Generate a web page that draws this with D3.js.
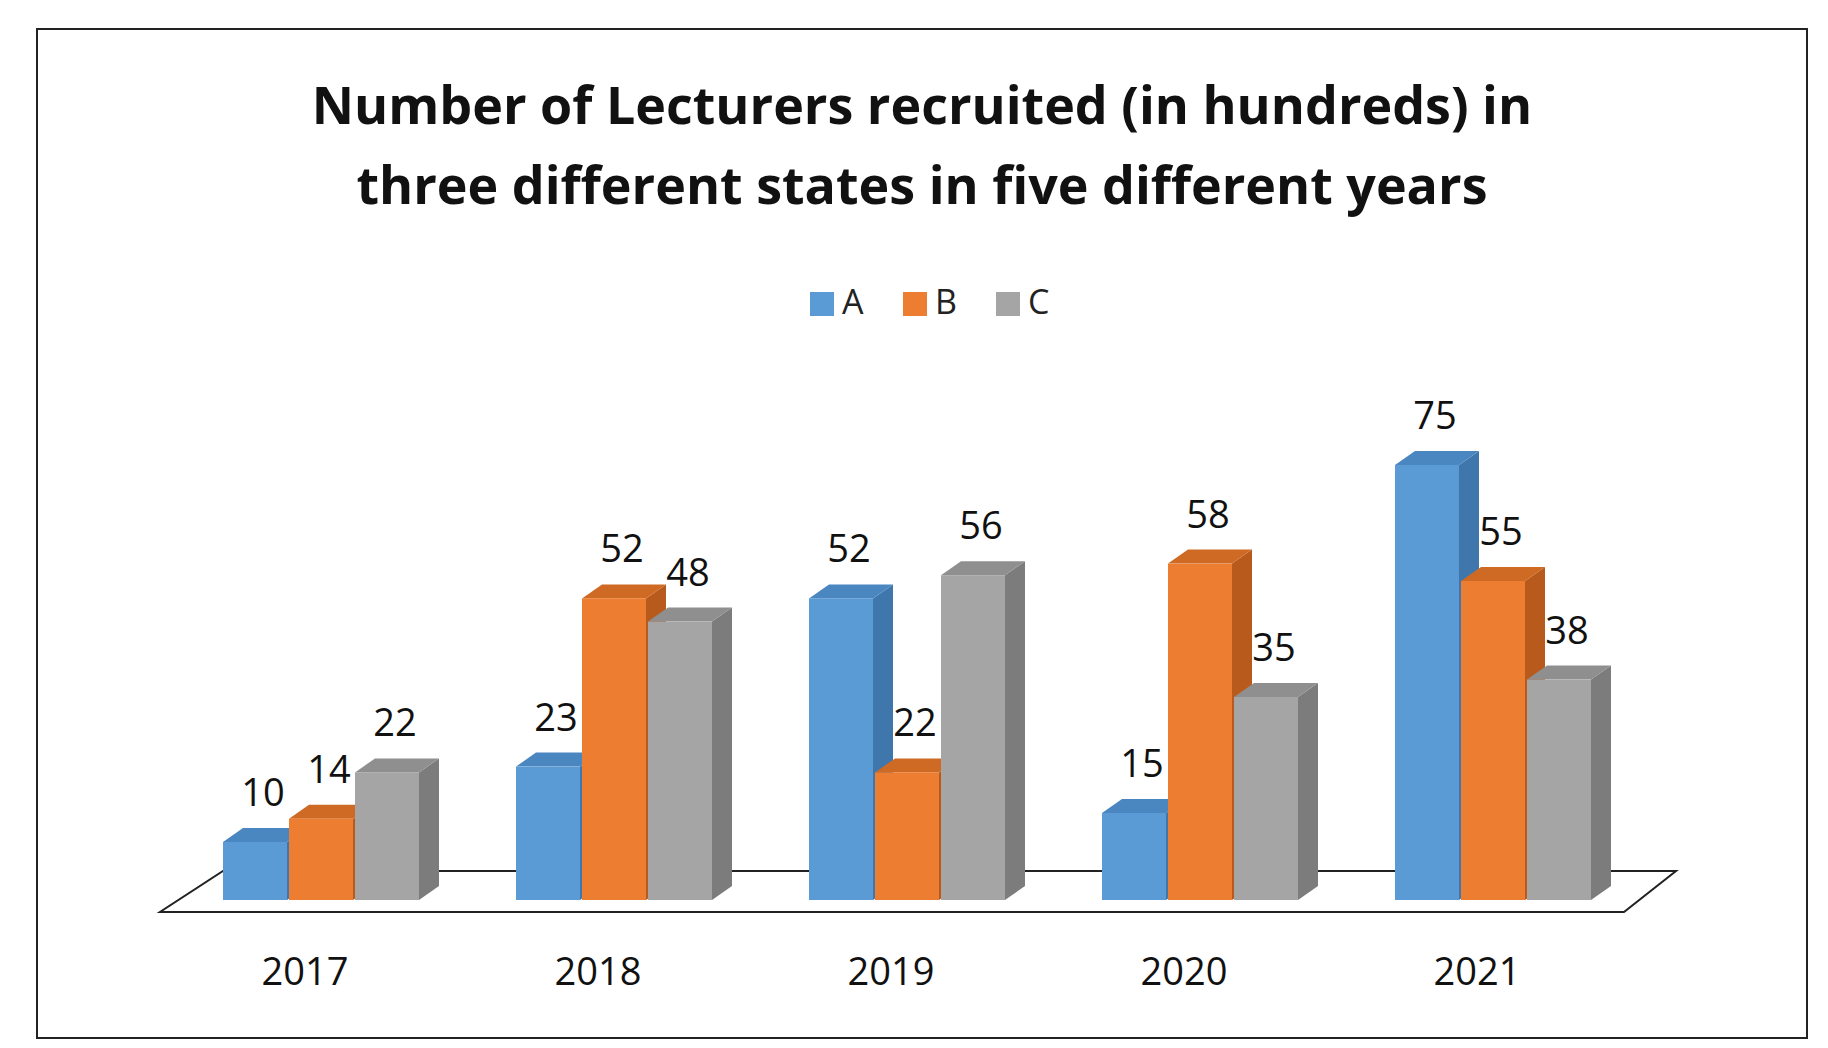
<!DOCTYPE html>
<html><head><meta charset="utf-8">
<script src="https://cdn.jsdelivr.net/npm/d3@7"></script>
<style>body{margin:0;background:#fff}</style></head>
<body><script>
const years = ["2017", "2018", "2019", "2020", "2021"];
const series = ["A", "B", "C"];
const valuesA = [10, 23, 52, 15, 75];
const valuesB = [14, 52, 22, 58, 55];
const valuesC = [22, 48, 56, 35, 38];
const colors = ["#5b9bd5", "#ed7d31", "#a5a5a5"];
const sides = ["#3f77ad", "#b85a1c", "#7c7c7c"];
const tops = ["#4a86c0", "#cf6a25", "#8f8f8f"];

const W = 1828, H = 1048;
const svg = d3.select("body").append("svg").attr("width", W).attr("height", H)
  .style("font-family", "Open Sans, Lato, sans-serif");

svg.append("rect").attr("x", 37).attr("y", 29).attr("width", 1770).attr("height", 1009)
  .attr("fill", "#fff").attr("stroke", "#222").attr("stroke-width", 2);

svg.append("text").attr("x", 922).attr("y", 124).attr("text-anchor", "middle")
  .attr("font-size", 52).attr("font-weight", "bold").attr("fill", "#111")
  .text("Number of Lecturers recruited (in hundreds) in");
svg.append("text").attr("x", 922).attr("y", 204).attr("text-anchor", "middle")
  .attr("font-size", 52).attr("font-weight", "bold").attr("fill", "#111")
  .text("three different states in five different years");

// legend
const lg = svg.append("g").selectAll("g").data(series).enter().append("g")
  .attr("transform", (d, i) => `translate(${810 + i * 93},292)`);
lg.append("rect").attr("width", 24).attr("height", 24).attr("fill", (d, i) => colors[i]);
lg.append("text").attr("x", 32).attr("y", 22).attr("font-size", 34).attr("fill", "#222").text(d => d);

const base = 900, dx = 20, dy = 14;
const x = d3.scaleBand().domain(years).range([223, 223 + 293 * 5]).paddingInner(0).paddingOuter(0);
const xs = d3.scaleBand().domain(series).range([0, 198]);
const y = d3.scaleLinear().domain([0, 75]).range([base, base - 435]);

// floor
svg.append("path")
  .attr("d", `M223,${base - 29} L1676,${base - 29} L1624,${base + 12} L160,${base + 12} Z`)
  .attr("fill", "#fff").attr("stroke", "#222").attr("stroke-width", 2);

const data = [];
years.forEach((yr, j) => {
  [valuesA, valuesB, valuesC].forEach((vals, i) => data.push({ yr, s: series[i], i, v: vals[j] }));
});

const bars = svg.append("g").selectAll("g").data(data).enter().append("g");
const bx = d => x(d.yr) + xs(d.s);
const bw = xs.bandwidth() - 2;
bars.append("path").attr("fill", d => sides[d.i])
  .attr("d", d => { const x0 = bx(d) + bw, t = y(d.v);
    return `M${x0},${t} L${x0 + dx},${t - dy} L${x0 + dx},${base - dy} L${x0},${base} Z`; });
bars.append("path").attr("fill", d => tops[d.i])
  .attr("d", d => { const x0 = bx(d), t = y(d.v);
    return `M${x0},${t} L${x0 + dx},${t - dy} L${x0 + bw + dx},${t - dy} L${x0 + bw},${t} Z`; });
bars.append("rect").attr("x", bx).attr("y", d => y(d.v)).attr("width", bw)
  .attr("height", d => base - y(d.v)).attr("fill", d => colors[d.i]);
bars.append("text").attr("x", d => bx(d) + bw / 2 + 8).attr("y", d => y(d.v) - dy - 22)
  .attr("text-anchor", "middle").attr("font-size", 38).attr("fill", "#111").text(d => d.v);

svg.append("g").selectAll("text").data(years).enter().append("text")
  .attr("x", d => x(d) + 82).attr("y", 985).attr("text-anchor", "middle")
  .attr("font-size", 38).attr("fill", "#111").text(d => d);
</script></body></html>
